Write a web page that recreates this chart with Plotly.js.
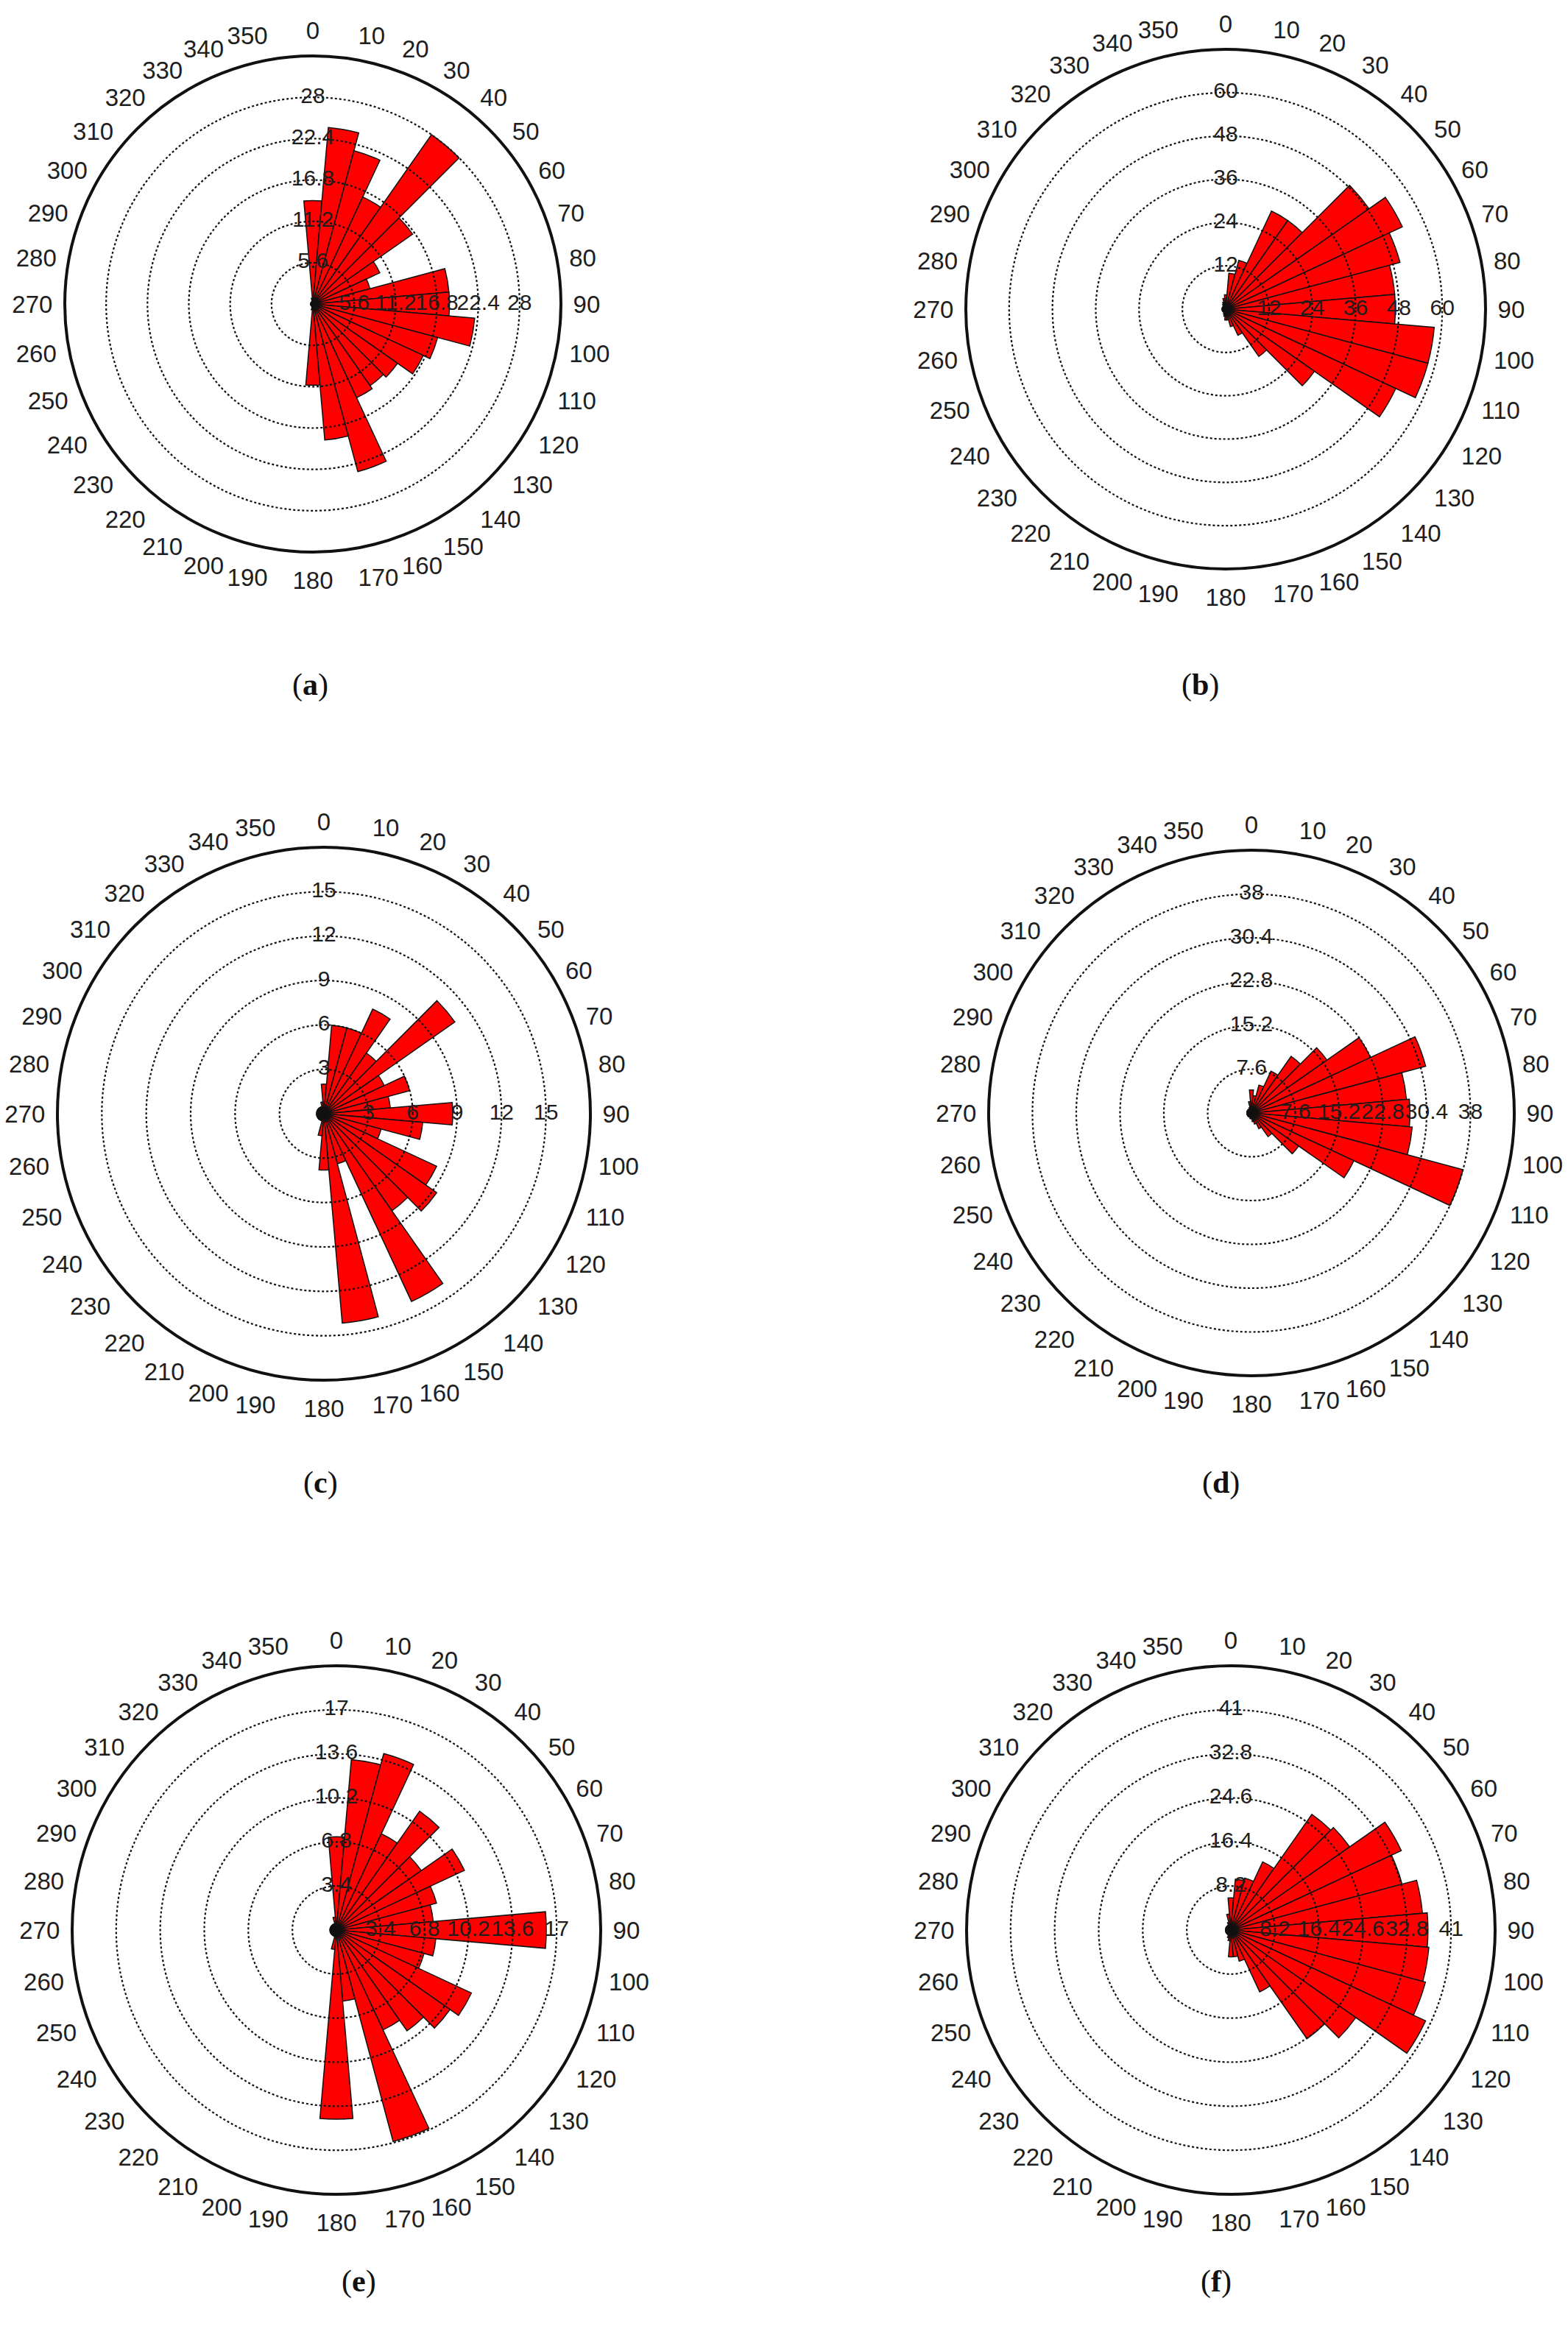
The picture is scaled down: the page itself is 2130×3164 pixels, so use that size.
<!DOCTYPE html>
<html>
<head>
<meta charset="utf-8">
<script src="https://cdn.plot.ly/plotly-3.0.1.min.js"></script>
<style>
  html, body { margin: 0; padding: 0; background: #fff; }
  #plotArea { width: 2130px; height: 3164px; }
</style>
</head>
<body>
<div id="plotArea"></div>
<script>
// bin directions, degrees clockwise from north
var dirs = [0, 10, 20, 30, 40, 50, 60, 70, 80, 90, 100, 110, 120, 130, 140, 150, 160, 170,
            180, 190, 200, 210, 220, 230, 240, 250, 260, 270, 280, 290, 300, 310, 320, 330, 340, 350];
var dirLabels = ["0", "10", "20", "30", "40", "50", "60", "70", "80", "90", "100", "110", "120",
                 "130", "140", "150", "160", "170", "180", "190", "200", "210", "220", "230", "240",
                 "250", "260", "270", "280", "290", "300", "310", "320", "330", "340", "350"];

// radial rings (tick values) of each rose
var ringsA = [5.6, 11.2, 16.8, 22.4, 28];
var ringsB = [12, 24, 36, 48, 60];
var ringsC = [3, 6, 9, 12, 15];
var ringsD = [7.6, 15.2, 22.8, 30.4, 38];
var ringsE = [3.4, 6.8, 10.2, 13.6, 17];
var ringsF = [8.2, 16.4, 24.6, 32.8, 41];

var ringTextA = ["5.6", "11.2", "16.8", "22.4", "28"];
var ringTextB = ["12", "24", "36", "48", "60"];
var ringTextC = ["3", "6", "9", "12", "15"];
var ringTextD = ["7.6", "15.2", "22.8", "30.4", "38"];
var ringTextE = ["3.4", "6.8", "10.2", "13.6", "17"];
var ringTextF = ["8.2", "16.4", "24.6", "32.8", "41"];

// counts per direction bin
var countsA = [14, 24, 21.5, 16, 28, 16.5, 10, 8, 18.5, 18.5, 22, 17.5, 16.5, 14, 13.5, 14, 23.5, 18.5,
               11, 0.8, 0.4, 0.3, 0.3, 0.3, 0.3, 0.3, 0.3, 0.3, 0.3, 0.3, 0.3, 0.3, 0.3, 0.3, 0.4, 0.8];
var countsB = [4, 10, 14, 30, 30, 48.5, 54, 50, 47, 47, 58, 58, 52, 30, 16, 8, 5, 3,
               3, 2, 1.5, 1, 1, 1, 1, 1, 1, 1, 1, 1, 1, 1, 1, 1.5, 2, 3];
var countsC = [2, 6, 6, 7.8, 5, 10.8, 4.5, 6, 4.5, 8.7, 6.7, 4, 8.4, 9.3, 8, 14, 3.5, 14.2,
               3.8, 1.5, 0.5, 0.5, 0.5, 0.5, 0.5, 0.5, 0.5, 0.5, 0.5, 0.5, 0.5, 0.5, 0.5, 0.5, 0.5, 0.8];
var countsD = [4, 3, 5, 8, 12, 16, 22.8, 31.3, 27, 27.5, 28, 38, 19.6, 10, 5, 3, 2, 1.5,
               1, 1, 0.8, 0.8, 0.8, 0.8, 0.8, 0.8, 0.8, 0.8, 0.8, 0.8, 0.8, 0.8, 0.8, 0.8, 1, 2];
var countsE = [7.2, 13.2, 14.1, 8.2, 11.2, 8, 10.9, 8, 7.5, 16.2, 7.7, 7, 11.5, 10.7, 9.5, 8.5, 16.9, 5.5,
               14.6, 1.5, 0.5, 0.5, 0.5, 0.5, 0.5, 0.5, 0.5, 0.5, 0.5, 0.5, 0.5, 0.5, 0.5, 0.5, 0.5, 1];
var countsF = [6, 9.5, 10, 14, 26.3, 27, 35, 33, 35.8, 36.7, 37, 37.5, 40, 28.4, 24.7, 12.7, 6, 5,
               5, 2, 1.5, 1, 1, 1, 1, 1, 1, 1, 1, 1, 1, 1, 1, 1, 1.5, 3];

var panelTags = ["a", "b", "c", "d", "e", "f"];

// page layout of each rose: centre and outer radius in px, label position
var W = 2130, H = 3164;
var boxes = [
  { cx: 425, cy: 413, R: 337, lx: 395, ly: 905 },
  { cx: 1665, cy: 420, R: 353, lx: 1658, ly: 905 },
  { cx: 440, cy: 1513, R: 362, lx: 410, ly: 2015 },
  { cx: 1700, cy: 1512, R: 357, lx: 1686, ly: 2015 },
  { cx: 457, cy: 2622, R: 359, lx: 462, ly: 3125 },
  { cx: 1672, cy: 2622, R: 359, lx: 1675, ly: 3125 }
];

var roses = [
  [countsA, ringsA, ringTextA],
  [countsB, ringsB, ringTextB],
  [countsC, ringsC, ringTextC],
  [countsD, ringsD, ringTextD],
  [countsE, ringsE, ringTextE],
  [countsF, ringsF, ringTextF]
];

var ink = "#1e1e1e";
var data = [];
var layout = {
  width: W, height: H,
  margin: { l: 0, r: 0, t: 0, b: 0 },
  paper_bgcolor: "#fff",
  showlegend: false,
  font: { family: "Liberation Sans, Arial, sans-serif", color: ink },
  annotations: []
};

roses.forEach(function (rose, i) {
  var counts = rose[0], rings = rose[1], ringText = rose[2];
  var b = boxes[i];
  var rmax = rings[0] * 6;
  var base = "polar" + (i * 2 + 1 === 1 ? "" : i * 2 + 1);
  var over = "polar" + (i * 2 + 2);
  var dom = {
    x: [(b.cx - b.R) / W, (b.cx + b.R) / W],
    y: [1 - (b.cy + b.R) / H, 1 - (b.cy - b.R) / H]
  };

  // bars + outer circle + compass labels
  layout[base] = {
    domain: dom,
    bgcolor: "#fff",
    radialaxis: { range: [0, rmax], showgrid: false, showline: false, showticklabels: false, ticks: "" },
    angularaxis: {
      direction: "clockwise", rotation: 90,
      tickmode: "array", tickvals: dirs, ticktext: dirLabels,
      showgrid: false, showline: true, linecolor: "#111", linewidth: 4,
      ticks: "outside", ticklen: 8, tickcolor: "rgba(0,0,0,0)",
      tickfont: { size: 33, color: ink }
    }
  };
  // transparent overlay: dotted rings and ring labels above the bars
  layout[over] = {
    domain: dom,
    bgcolor: "rgba(0,0,0,0)",
    radialaxis: {
      range: [0, rmax], tickvals: rings, showticklabels: false, ticks: "", showline: false,
      showgrid: true, gridcolor: "#111", gridwidth: 2.2, griddash: "dot"
    },
    angularaxis: {
      direction: "clockwise", rotation: 90,
      showgrid: false, showline: false, showticklabels: false, ticks: ""
    }
  };

  data.push({
    type: "barpolar", subplot: base,
    r: counts, theta: dirs, width: 10,
    marker: { color: "#ff0000", line: { color: "#111", width: 1.5 } },
    hoverinfo: "skip"
  });

  data.push({
    type: "scatterpolar", subplot: over, mode: "text",
    r: rings.concat(rings),
    theta: rings.map(function () { return 0; }).concat(rings.map(function () { return 90; })),
    text: ringText.concat(ringText),
    textposition: "middle center",
    textfont: { size: 30, color: ink, family: "Liberation Sans, Arial, sans-serif" },
    cliponaxis: false,
    hoverinfo: "skip"
  });

  layout.annotations.push({
    xref: "paper", yref: "paper",
    x: b.lx / W, y: 1 - b.ly / H,
    text: "(<b>" + panelTags[i] + "</b>)",
    showarrow: false,
    font: { family: "Liberation Serif, Times New Roman, serif", size: 42, color: "#111" }
  });
});

Plotly.newPlot("plotArea", data, layout, { staticPlot: true });
</script>
</body>
</html>
